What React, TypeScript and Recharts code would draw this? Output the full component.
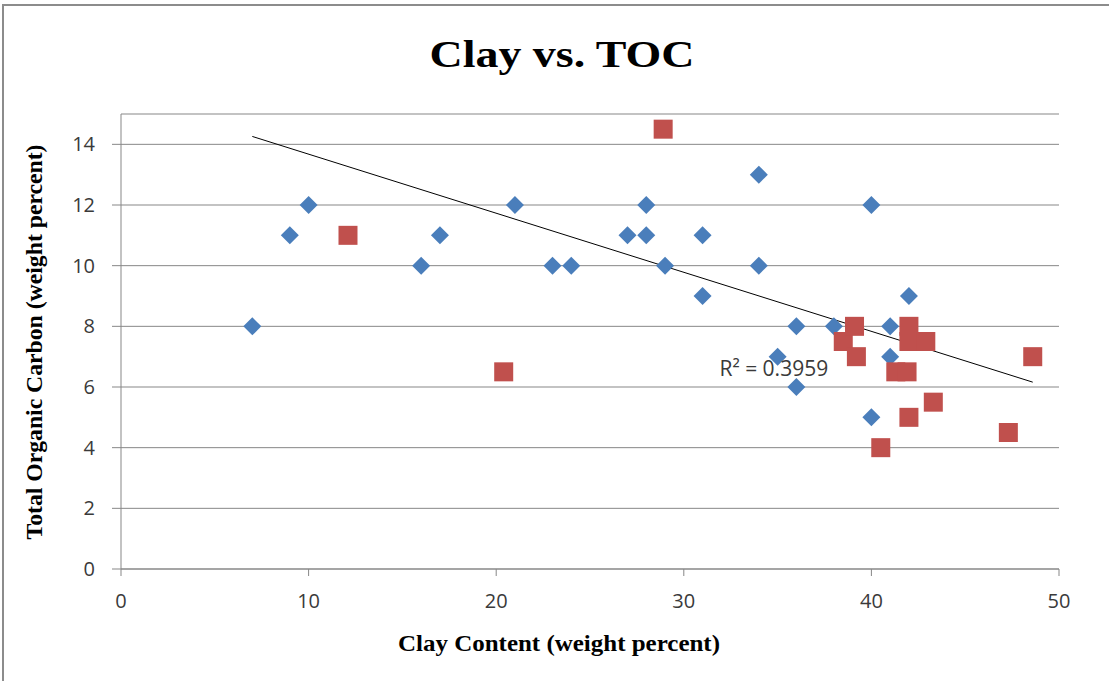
import React from 'react';
import {
  ScatterChart,
  Scatter,
  XAxis,
  YAxis,
  CartesianGrid,
  ReferenceLine,
  ReferenceDot,
} from 'recharts';

// Clay content (x) vs total organic carbon (y), weight percent
const blueClay = [7, 9, 10, 16, 17, 21, 23, 24, 27, 28, 28, 29, 31, 31, 34, 34, 35, 36, 36, 38, 40, 40, 41, 41, 42];
const blueToc = [8, 11, 12, 10, 11, 12, 10, 10, 11, 12, 11, 10, 11, 9, 13, 10, 7, 8, 6, 8, 12, 5, 8, 7, 9];

const redClay = [12.1, 20.4, 28.9, 38.5, 39.1, 39.2, 40.5, 41.3, 41.9, 42, 42, 42, 42.9, 43.3, 47.3, 48.6];
const redToc = [11, 6.5, 14.5, 7.5, 8, 7, 4, 6.5, 6.5, 8, 7.5, 5, 7.5, 5.5, 4.5, 7];

// linear trendline endpoints
const trendClay = [7, 48.6];
const trendToc = [14.26, 6.16];
const rSquaredLabel = 'R² = 0.3959';
const labelAt = { x: 31.9, y: 6.6 };

const xTicks = [0, 10, 20, 30, 40, 50];
const yTicks = [0, 2, 4, 6, 8, 10, 12, 14];

const AXIS_GRAY = '#878787';
const SERIF = '"Liberation Serif", "Times New Roman", serif';
const SANS = '"Open Sans", "DejaVu Sans", sans-serif';

const blueData = blueClay.map((x, i) => ({ x, y: blueToc[i] }));
const redData = redClay.map((x, i) => ({ x, y: redToc[i] }));

const Diamond = (props: any) => {
  const { cx, cy } = props;
  const r = 9;
  return (
    <polygon
      points={`${cx},${cy - r} ${cx + r},${cy} ${cx},${cy + r} ${cx - r},${cy}`}
      fill="#4a7ebb"
    />
  );
};

const Square = (props: any) => {
  const { cx, cy } = props;
  const s = 19;
  return <rect x={cx - s / 2} y={cy - s / 2} width={s} height={s} fill="#c0504d" />;
};

export default function App() {
  const tickStyle = { fontSize: 20, fontFamily: SANS, fill: '#3a3a3a' };

  return (
    <div
      style={{
        position: 'fixed',
        left: 0,
        top: 0,
        width: 1109,
        height: 681,
        overflow: 'hidden',
        background: '#fff',
      }}
    >
      {/* chart frame, runs off the right and bottom edges */}
      <div
        style={{
          position: 'absolute',
          left: 2,
          top: 4,
          width: 1200,
          height: 800,
          border: '2px solid #8c8c8c',
        }}
      />
      <ScatterChart
        width={1109}
        height={681}
        margin={{ top: 114, right: 50, left: 0, bottom: 0 }}
        style={{ position: 'absolute', left: 0, top: 0 }}
      >
        <CartesianGrid vertical={false} stroke={AXIS_GRAY} strokeWidth={1} />
        <XAxis
          type="number"
          dataKey="x"
          domain={[0, 50]}
          ticks={xTicks}
          height={112}
          tickSize={7}
          tickMargin={18}
          stroke={AXIS_GRAY}
          tick={tickStyle}
          interval={0}
        />
        <YAxis
          type="number"
          dataKey="y"
          domain={[0, 15]}
          ticks={yTicks}
          width={121}
          tickSize={9}
          tickMargin={17}
          stroke={AXIS_GRAY}
          tick={tickStyle}
          interval={0}
        />
        <Scatter data={blueData} shape={Diamond} isAnimationActive={false} />
        <Scatter data={redData} shape={Square} isAnimationActive={false} />
        <ReferenceLine
          segment={[
            { x: trendClay[0], y: trendToc[0] },
            { x: trendClay[1], y: trendToc[1] },
          ]}
          stroke="#000"
          strokeWidth={1}
          ifOverflow="visible"
        />
        <ReferenceDot
          x={labelAt.x}
          y={labelAt.y}
          r={0}
          ifOverflow="visible"
          label={{
            value: rSquaredLabel,
            position: 'right',
            offset: 0,
            fill: '#3a3a3a',
            fontSize: 21,
            fontFamily: SANS,
          }}
        />
      </ScatterChart>

      {/* titles */}
      <svg
        width={1109}
        height={681}
        style={{ position: 'absolute', left: 0, top: 0, pointerEvents: 'none' }}
      >
        <text
          x={562}
          y={67}
          textAnchor="middle"
          fontFamily={SERIF}
          fontWeight="bold"
          fontSize={38}
          textLength={265}
          lengthAdjust="spacingAndGlyphs"
          fill="#000"
        >
          Clay vs. TOC
        </text>
        <text
          x={559}
          y={651}
          textAnchor="middle"
          fontFamily={SERIF}
          fontWeight="bold"
          fontSize={24}
          textLength={322}
          lengthAdjust="spacingAndGlyphs"
          fill="#000"
        >
          Clay Content (weight percent)
        </text>
        <text
          transform="translate(42, 342) rotate(-90)"
          textAnchor="middle"
          fontFamily={SERIF}
          fontWeight="bold"
          fontSize={23}
          textLength={395}
          lengthAdjust="spacingAndGlyphs"
          fill="#000"
        >
          Total Organic Carbon  (weight percent)
        </text>
      </svg>
    </div>
  );
}
